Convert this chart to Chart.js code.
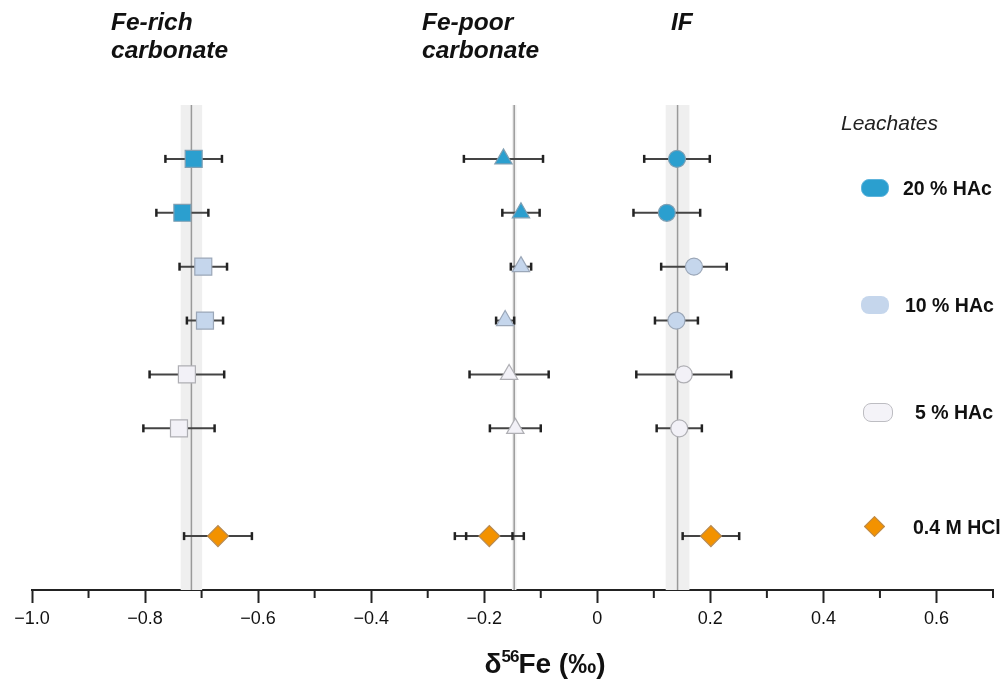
<!DOCTYPE html>
<html>
<head>
<meta charset="utf-8">
<script src="https://cdn.jsdelivr.net/npm/chart.js@4.4.1/dist/chart.umd.min.js"></script>
<style>
  html, body { margin: 0; padding: 0; background: #fff; }
  #wrap { position: relative; width: 1000px; height: 680px; overflow: hidden; font-family: "Liberation Sans", Arial, sans-serif; color: #111; }
  #chart { position: absolute; left: 0; top: 0; }
  .group { position: absolute; font-weight: bold; font-style: italic; font-size: 24.5px; line-height: 28px; }
  .legTitle { position: absolute; left: 841px; top: 111px; font-style: italic; font-size: 21px; line-height: 24px; color: #222; }
  .legText { position: absolute; font-weight: bold; font-size: 19.5px; line-height: 22px; white-space: nowrap; }
  .legBox { position: absolute; border-radius: 8px; box-sizing: border-box; }
  .legDiamond { position: absolute; width: 15px; height: 15px; transform: rotate(45deg); background: #f39200; border: 1px solid #b58a55; box-sizing: border-box; }
  .axisTitle { position: absolute; left: 545px; top: 647px; transform: translateX(-50%); font-weight: bold; font-size: 28px; line-height: 34px; white-space: nowrap; }
  .axisTitle sup { font-size: 17px; vertical-align: 11px; line-height: 0; letter-spacing: -1px; }
</style>
</head>
<body>
<div id="wrap">
  <canvas id="chart" width="1000" height="680"></canvas>
  <div class="group" style="left:111px; top:8px;">Fe-rich<br>carbonate</div>
  <div class="group" style="left:422px; top:8px;">Fe-poor<br>carbonate</div>
  <div class="group" style="left:671px; top:8px;">IF</div>

  <div class="legTitle">Leachates</div>
  <div class="legBox" style="left:861px; top:179px; width:28px; height:18px; background:#2b9fcf; border:1px solid #5eb4dc;"></div>
  <div class="legText" style="left:903px; top:177px;">20 % HAc</div>
  <div class="legBox" style="left:861px; top:296px; width:28px; height:18px; background:#c5d6ec;"></div>
  <div class="legText" style="left:905px; top:294px;">10 % HAc</div>
  <div class="legBox" style="left:863px; top:403px; width:30px; height:19px; background:#f4f3f8; border:1.5px solid #bdbdc2;"></div>
  <div class="legText" style="left:915px; top:401px;">5 % HAc</div>
  <div class="legDiamond" style="left:867px; top:519px;"></div>
  <div class="legText" style="left:913px; top:516px;">0.4 M HCl</div>

  <div class="axisTitle">δ<sup>56</sup>Fe (‰)</div>
</div>
<script>
// linhas (posição vertical) e leachate de cada linha
const rowPos = [1, 2, 3, 4, 5, 6, 8];
const rowLeachate = ["20 % HAc", "20 % HAc", "10 % HAc", "10 % HAc", "5 % HAc", "5 % HAc", "0.4 M HCl"];
const leachates = ["20 % HAc", "10 % HAc", "5 % HAc", "0.4 M HCl"];

// valores de δ56Fe (‰) e erro (±) por material
const feRichVals = [-0.714, -0.734, -0.697, -0.694, -0.726, -0.740, -0.671];
const feRichErr = [0.050, 0.046, 0.042, 0.032, 0.066, 0.063, 0.060];
const fePoorVals = [-0.166, -0.135, -0.135, -0.163, -0.156, -0.145, -0.191];
const fePoorErr = [0.070, 0.033, 0.018, 0.016, 0.070, 0.045, 0.061];
const fePoorHclInnerErr = 0.041;
const ifVals = [0.141, 0.123, 0.171, 0.140, 0.153, 0.145, 0.201];
const ifErr = [0.058, 0.059, 0.058, 0.038, 0.084, 0.040, 0.050];

// valores de referência (linha + faixa cinza)
const refMeans = [-0.718, -0.147, 0.142];
const refErr = [0.019, 0.004, 0.021];

const xMin = -1.0;
const xMax = 0.7;

const materials = [
    { vals: feRichVals, err: feRichErr, shape: "rect", radius: 12 },
    { vals: fePoorVals, err: fePoorErr, shape: "triangle", radius: 10 },
    { vals: ifVals, err: ifErr, shape: "circle", radius: 8.5 }
];

const leachateStyle = {
    "20 % HAc": { fill: "#2b9fcf", border: "#7f9fb3" },
    "10 % HAc": { fill: "#c5d6ec", border: "#9ba7b8" },
    "5 % HAc": { fill: "#f2f1f7", border: "#afafb4" },
    "0.4 M HCl": { fill: "#f39200", border: "#b58a55" }
};

// monta um dataset por leachate
const datasets = leachates.map(function (name) {
    const points = [];
    rowLeachate.forEach(function (lab, i) {
        if (lab !== name) return;
        materials.forEach(function (m, k) {
            points.push({
                x: m.vals[i], y: rowPos[i], err: m.err[i],
                inner: (k === 1 && name === "0.4 M HCl") ? fePoorHclInnerErr : null,
                shape: name === "0.4 M HCl" ? "rectRot" : m.shape,
                r: name === "0.4 M HCl" ? 10.5 : m.radius
            });
        });
    });
    return {
        label: name,
        data: points,
        pointStyle: function (c) { return c.raw ? c.raw.shape : "circle"; },
        pointRadius: function (c) { return c.raw ? c.raw.r : 8; },
        backgroundColor: leachateStyle[name].fill,
        borderColor: leachateStyle[name].border,
        borderWidth: 1.2,
        showLine: false
    };
});

// faixas de referência e barras de erro, desenhadas atrás dos marcadores
const backdropPlugin = {
    id: "backdrop",
    beforeDatasetsDraw: function (chart) {
        const ctx = chart.ctx;
        const area = chart.chartArea;
        const x = chart.scales.x;
        const y = chart.scales.y;
        ctx.save();
        refMeans.forEach(function (m, i) {
            const a = x.getPixelForValue(m - refErr[i]);
            const b = x.getPixelForValue(m + refErr[i]);
            ctx.fillStyle = "#efefef";
            ctx.fillRect(a, area.top, b - a, area.bottom - area.top);
            const px = x.getPixelForValue(m);
            ctx.strokeStyle = "#9a9a9a";
            ctx.lineWidth = 1.5;
            ctx.beginPath();
            ctx.moveTo(px, area.top);
            ctx.lineTo(px, area.bottom);
            ctx.stroke();
        });
        chart.data.datasets.forEach(function (ds) {
            ds.data.forEach(function (p) {
                const py = y.getPixelForValue(p.y);
                const l = x.getPixelForValue(p.x - p.err);
                const r = x.getPixelForValue(p.x + p.err);
                ctx.strokeStyle = "#444";
                ctx.lineWidth = 2;
                ctx.beginPath();
                ctx.moveTo(l, py);
                ctx.lineTo(r, py);
                ctx.stroke();
                const caps = [l, r];
                if (p.inner) {
                    caps.push(x.getPixelForValue(p.x - p.inner), x.getPixelForValue(p.x + p.inner));
                }
                ctx.strokeStyle = "#222";
                ctx.lineWidth = 2.5;
                caps.forEach(function (cx) {
                    ctx.beginPath();
                    ctx.moveTo(cx, py - 4);
                    ctx.lineTo(cx, py + 4);
                    ctx.stroke();
                });
            });
        });
        ctx.restore();
    },
    afterDraw: function (chart) {
        // ticks menores a cada 0.1
        const ctx = chart.ctx;
        const x = chart.scales.x;
        ctx.save();
        ctx.strokeStyle = "#222";
        ctx.lineWidth = 2;
        for (let k = -10; k <= 7; k++) {
            if (k % 2 === 0) continue;
            const px = x.getPixelForValue(k / 10);
            ctx.beginPath();
            ctx.moveTo(px, x.top);
            ctx.lineTo(px, x.top + 8);
            ctx.stroke();
        }
        ctx.restore();
    }
};

const chart = new Chart(document.getElementById("chart").getContext("2d"), {
    type: "scatter",
    data: { datasets: datasets },
    options: {
        responsive: false,
        animation: false,
        devicePixelRatio: 1,
        layout: { autoPadding: false, padding: { left: 32, right: 7, top: 105, bottom: 0 } },
        plugins: { legend: { display: false }, tooltip: { enabled: false } },
        scales: {
            x: {
                type: "linear",
                min: xMin,
                max: xMax,
                afterFit: function (scale) {
                    scale.height = 90;
                    scale.paddingLeft = 0;
                    scale.paddingRight = 0;
                },
                border: { color: "#222", width: 2 },
                grid: {
                    drawOnChartArea: false,
                    drawTicks: true,
                    tickLength: 13,
                    tickWidth: 2,
                    tickColor: function (c) {
                        return Math.round(c.tick.value * 10) % 2 === 0 ? "#222" : "rgba(0,0,0,0)";
                    }
                },
                ticks: {
                    stepSize: 0.1,
                    autoSkip: false,
                    maxRotation: 0,
                    padding: 5,
                    color: "#111",
                    font: { family: "'Liberation Sans', Arial, sans-serif", size: 18 },
                    callback: function (v) {
                        const k = Math.round(v * 10);
                        if (k % 2 !== 0) return "";
                        if (k === 0) return "0";
                        return (k / 10).toFixed(1).replace("-", "\u2212");
                    }
                }
            },
            y: {
                type: "linear",
                display: false,
                min: 0,
                max: 9,
                reverse: true
            }
        }
    },
    plugins: [backdropPlugin]
});
</script>
</body>
</html>
